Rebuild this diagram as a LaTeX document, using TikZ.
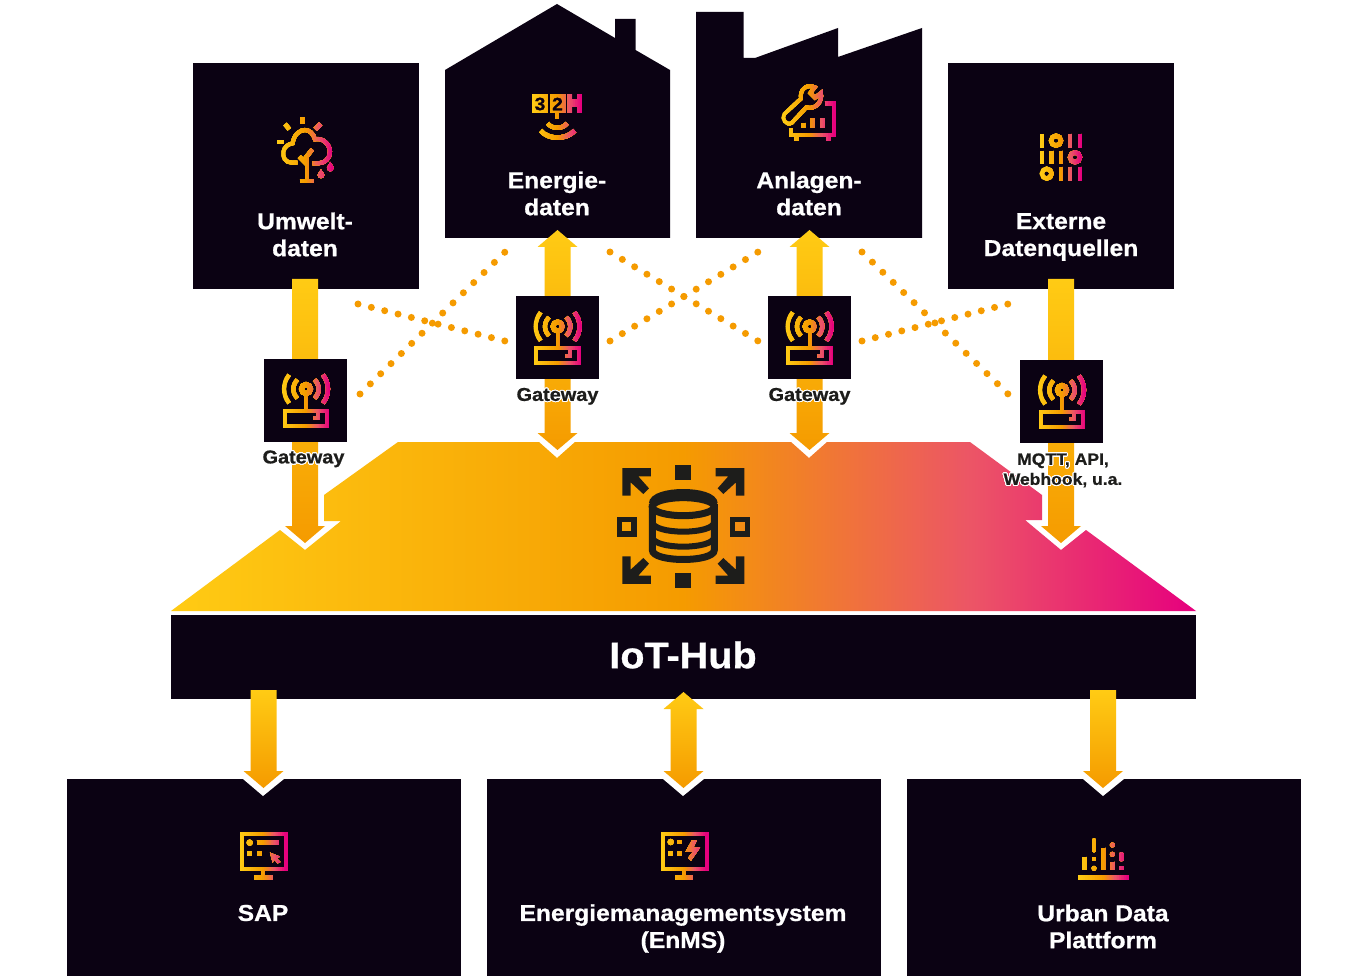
\documentclass[tikz,border=0pt]{standalone}
\usepackage{fontspec}
\usepackage{contour}
\usetikzlibrary{positioning,calc}
\setmainfont{Liberation Sans}[BoldFeatures={FakeStretch=1.07,FakeBold=0.8}]
\contourlength{1pt}
\contournumber{24}

\definecolor{boxdark}{HTML}{0B0213}
\definecolor{icondark}{HTML}{1D1D1B}
\definecolor{brandyellow}{HTML}{FFCB14}
\definecolor{brandorange}{HTML}{F59B00}
\definecolor{brandcoral}{HTML}{EC5566}
\definecolor{brandpink}{HTML}{E6007E}

\pgfdeclarehorizontalshading{brandgrad}{100bp}{
  color(0bp)=(brandyellow); color(25bp)=(brandyellow); color(50bp)=(brandorange);
  color(64bp)=(brandcoral); color(75bp)=(brandpink); color(100bp)=(brandpink)}

% Block arrows: tail, tip
\newcommand{\arrowdown}[2]{
  \shade[arrowgrad] let \p1=(#1), \p2=(#2) in
    (\x1-13pt,\y1) -- (\x1+13pt,\y1) -- (\x1+13pt,\y2+17pt) -- (\x1+20pt,\y2+17pt)
    -- (\x2,\y2) -- (\x1-20pt,\y2+17pt) -- (\x1-13pt,\y2+17pt) -- cycle;
}
\newcommand{\arrowboth}[2]{
  \shade[arrowgrad] let \p1=(#1), \p2=(#2) in
    (\x1,\y1) -- (\x1+20pt,\y1-17pt) -- (\x1+13pt,\y1-17pt) -- (\x1+13pt,\y2+17pt) -- (\x1+20pt,\y2+17pt)
    -- (\x2,\y2) -- (\x1-20pt,\y2+17pt) -- (\x1-13pt,\y2+17pt) -- (\x1-13pt,\y1-17pt) -- (\x1-20pt,\y1-17pt) -- cycle;
}

% Gradient icon: drawing, shift x, y, then its x from, x to
\newcommand{\gradicon}[5]{
  \begin{scope}[shift={(#2,#3)}, x=.3333pt, y=-.3333pt]
    \foreach \slice in {0,...,20}{
      \ifnum\slice<11 \colorlet{iconcol}{brandorange!\the\numexpr\slice*10\relax!brandyellow}
      \else\ifnum\slice<16 \colorlet{iconcol}{brandcoral!\the\numexpr(\slice-10)*20\relax!brandorange}
      \else \colorlet{iconcol}{brandpink!\the\numexpr(\slice-15)*20\relax!brandcoral}\fi\fi
      \pgfmathsetmacro{\xcut}{\slice==0 ? #4-30 : #4+(#5-#4)*\slice/21}
      \begin{scope}[color=iconcol]
        \clip (\xcut,-1000) rectangle (#5+30,2000);
        #1
      \end{scope}
    }
  \end{scope}
}

% Icons
\newcommand{\drawGateway}{
  \draw[line width=4.8pt] (168,117) circle (4.6pt);
  \draw[line width=4pt] (168,138) -- (168,178);
  \draw[line width=4pt] (104,182) rectangle (232,228);
  \draw[line width=4pt] (204,180) -- (204,205) -- (190,205);
  \draw[line width=4.2pt] (168,117) ++(133:38) arc[start angle=133, end angle=227, radius=38];
  \draw[line width=4.2pt] (168,117) ++(140:66) arc[start angle=140, end angle=220, radius=66];
  \draw[line width=4.2pt] (168,117) ++(47:38) arc[start angle=47, end angle=-47, radius=38];
  \draw[line width=4.2pt] (168,117) ++(40:66) arc[start angle=40, end angle=-40, radius=66];
}
\newcommand{\drawTree}{
  \draw[line width=4pt] (322,308) -- (305,308) .. controls (285,308) and (277,290) .. (280,275)
    .. controls (283,260) and (295,252) .. (308,250) .. controls (312,222) and (330,210) .. (345,210)
    .. controls (358,210) and (370,220) .. (375,238) .. controls (400,232) and (420,255) .. (420,275)
    .. controls (420,295) and (405,310) .. (385,310) -- (368,310);
  \draw[line width=4.2pt] (350,365) -- (350,295);
  \draw[line width=4.2pt] (328,290) -- (350,312);
  \draw[line width=4.2pt] (367,268) -- (345,296);
  \draw[line width=4.2pt] (330,362) -- (372,362);
  \draw[line width=5pt] (339,172) -- (339,192);
  \draw[line width=4.5pt] (285,192) -- (298,208);
  \draw[line width=4.5pt] (392,192) -- (376,208);
  \draw[line width=4.5pt] (262,246) -- (282,246);
  \fill (393,328) .. controls (398,338) and (403,340) .. (403,345) .. controls (403,358) and (383,358) .. (383,345) .. controls (383,340) and (388,338) .. (393,328);
  \fill (421,306) .. controls (426,316) and (431,318) .. (431,323) .. controls (431,338) and (411,338) .. (411,323) .. controls (411,318) and (416,316) .. (421,306);
}
\newcommand{\drawMeter}{
  \fill (277,282) rectangle (323,340);
  \fill (330,282) rectangle (377,340);
  \fill (382,282) rectangle (427,340);
  \fill[boxdark] (397,282) rectangle (412,298);
  \fill[boxdark] (397,322) rectangle (412,340);
  \draw[line width=4.2pt] (352,340) -- (352,358);
  \draw[line width=4.2pt] (323,370) .. controls (335,388) and (369,388) .. (381,370);
  \draw[line width=4.6pt] (302,392) .. controls (325,420) and (379,420) .. (404,392);
}
\newcommand{\drawWrench}{
  \draw[line width=3.8pt] (374,262) .. controls (352,250) and (328,268) .. (333,296) -- (283,342)
    .. controls (272,356) and (290,380) .. (306,368) -- (349,322) .. controls (374,330) and (398,308) .. (393,279)
    -- (375,293) -- (361,279) -- cycle;
  \draw[line width=4.8pt] (405,311) -- (432,311) -- (432,405) -- (303,405) -- (303,383);
  \draw[line width=5pt] (320,405) -- (320,424);
  \draw[line width=5pt] (415,405) -- (415,424);
  \draw[line width=4.8pt] (341,369) -- (341,383);
  \draw[line width=4.8pt] (368,355) -- (368,383);
  \draw[line width=4.8pt] (397,355) -- (397,383);
}
\newcommand{\drawBinary}{
  \foreach \xbar/\ybar in {276/102, 360/102, 390/102, 276/152, 305/152, 333/152, 333/201, 360/201, 390/201}
    \draw[line width=4.8pt] (\xbar,\ybar) -- ++(0,41);
  \foreach \xring/\yring in {318/122, 375/172, 290/221}
    \draw[line width=4.4pt] (\xring,\yring) circle (4.9pt);
}
\newcommand{\drawSap}{
  \draw[line width=3.8pt] (65,463) rectangle (197,568);
  \draw[line width=4.2pt] (130,568) -- (130,592);
  \draw[line width=5pt] (103,592) -- (158,592);
  \fill (89,488) circle (3.2pt);
  \draw[line width=4.6pt] (110,488) -- (178,488);
  \fill (81,513) rectangle (96,527);
  \fill (110,513) rectangle (125,527);
  \fill (150,518) -- (180,530) -- (170,535) -- (181,546) -- (173,550) -- (163,539) -- (158,548) -- cycle;
}
\newcommand{\drawEms}{
  \draw[line width=3.8pt] (68,463) rectangle (200,568);
  \draw[line width=4.2pt] (132,568) -- (132,592);
  \draw[line width=5pt] (105,592) -- (160,592);
  \fill (92,486) circle (3.2pt);
  \fill (112,479) rectangle (127,493);
  \fill (84,513) rectangle (99,527);
  \fill (112,513) rectangle (127,527);
  \fill (155,482) -- (170,482) -- (160,503) -- (180,503) -- (153,542) -- (144,534) -- (158,516) -- (136,516) -- cycle;
}
\newcommand{\drawChart}{
  \draw[line width=4.8pt] (54,172) -- (206,172);
  \draw[line width=4.8pt] (74,110) -- (74,150);
  \draw[line width=4.8pt, line cap=round] (102,62) -- (102,90);
  \fill (95,110) rectangle (109,124);
  \fill (102,145) circle (2.5pt);
  \draw[line width=4.8pt] (130,83) -- (130,150);
  \fill (157,75) circle (2.5pt);
  \fill (157,103) circle (2.5pt);
  \draw[line width=4.8pt] (157,125) -- (157,150);
  \draw[line width=4.8pt, line cap=round] (184,104) -- (184,117);
  \fill (177,138) rectangle (191,150);
}

\begin{document}
\begin{tikzpicture}[
    x=1pt, y=-1pt,
    darkbox/.style={rectangle, fill=boxdark, inner sep=0pt},
    darkshape/.style={fill=boxdark},
    boxlabel/.style={text=white, align=center, inner sep=0pt, font=\bfseries\fontsize{23}{27}\selectfont},
    gwlabel/.style={text=icondark, align=center, inner sep=0pt, font=\bfseries\fontsize{18.6}{20}\selectfont},
    digit/.style={text=boxdark, inner sep=0pt, font=\bfseries\fontsize{18}{18}\selectfont},
    arrowgrad/.style={top color=brandyellow, bottom color=brandorange},
    dotline/.style={draw=brandorange, line width=7pt, line cap=round, dash pattern=on 0pt off #1}
]
\useasboundingbox (0,0) rectangle (1366,976);
\fill[white] (0,0) rectangle (1366,976);

% Sources
\node[darkbox, minimum width=226pt, minimum height=226pt] (umwelt) at (305.5,176) {};
\path[darkshape] (445,70) -- (557,4) -- (615,38) -- (615,19) -- (635.5,19) -- (635.5,50) -- (670,70) -- (670,238) -- (445,238) -- cycle;
\path[darkshape] (696,12) -- (743.5,12) -- (743.5,58) -- (755,58) -- (838,28) -- (838,57) -- (922,28) -- (922,238) -- (696,238) -- cycle;
\node[darkbox, minimum width=226pt, minimum height=226pt] (extern) at (1061,176) {};

\node[boxlabel] (umwelt-text) at (305,234.5) {Umwelt-\\daten};
\node[boxlabel] (energie) at (557,193.5) {Energie-\\daten};
\node[boxlabel] (anlagen) at (809,193.5) {Anlagen-\\daten};
\node[boxlabel] (extern-text) at (1061,237) {Externe\\Datenquellen};

\gradicon{\drawTree}{190}{60}{262}{432}
\gradicon{\drawMeter}{440}{0}{277}{427}
\node[digit] (digit-three) at (540,104) {3};
\node[digit] (digit-two) at (557.5,104) {2};
\gradicon{\drawWrench}{690}{0}{277}{437}
\gradicon{\drawBinary}{950}{100}{270}{397}

% Hub
\shade[shading=brandgrad] (171,611) -- (280,530) -- (305,550) -- (341,521) -- (324,521) -- (324,495) -- (398,442)
  -- (539,442) -- (557,458) -- (575,442) -- (791,442) -- (809,458) -- (827,442) -- (970,442)
  -- (1042,495) -- (1042,520) -- (1025,520) -- (1061,550) -- (1086,530) -- (1196,611) -- cycle;
\node[darkbox, minimum width=1025pt, minimum height=84pt] (hub) at (683.5,657) {};
\node[text=white, inner sep=0pt, font=\bfseries\fontsize{37}{37}\selectfont] (hub-text) at (683,655) {IoT-Hub};

% Hub icon
\begin{scope}[shift={(683.3,526)}, x=.3333pt, y=-.3333pt, icondark]
  \foreach \sx/\sy in {1/1, -1/1, 1/-1, -1/-1}
    \fill[xscale=\sx, yscale=\sy] (-183,-174) -- (-97,-174) -- (-97,-149) -- (-135,-149) -- (-103,-113) -- (-120,-96)
      -- (-158,-131) -- (-158,-91) -- (-183,-91) -- cycle;
  \fill (-24,-184) rectangle (24,-138);
  \fill (-24,142) rectangle (24,187);
  \draw[line width=5.4pt] (-192,-20) rectangle (-148,24);
  \draw[line width=5.4pt] (148,-20) rectangle (192,24);
  \draw[line width=7pt] (0,-58) ellipse (31pt and 9pt);
  \draw[line width=7pt] (-93,-66) .. controls (-93,-112) and (93,-112) .. (93,-66);
  \draw[line width=7pt] (-93,-66) -- (-93,72) .. controls (-93,110) and (93,110) .. (93,72) -- (93,-66);
  \draw[line width=6pt] (-93,-13) .. controls (-93,27) and (93,27) .. (93,-13);
  \draw[line width=6pt] (-93,32) .. controls (-93,72) and (93,72) .. (93,32);
\end{scope}

% Targets
\node[darkbox, minimum width=394pt, minimum height=197pt] (sap) at (264,877.5) {};
\node[darkbox, minimum width=394pt, minimum height=197pt] (enms) at (684,877.5) {};
\node[darkbox, minimum width=394pt, minimum height=197pt] (urban) at (1103.5,877.5) {};
\fill[white] (243,779) -- (263,796) -- (284,779) -- cycle;
\fill[white] (663,779) -- (683,796) -- (704,779) -- cycle;
\fill[white] (1083,779) -- (1103,796) -- (1124,779) -- cycle;

\node[boxlabel] (sap-text) at (263,913) {SAP};
\node[boxlabel] (enms-text) at (683,928.5) {Energiemanagementsystem\\(EnMS)};
\node[boxlabel] (urban-text) at (1103,926.5) {Urban Data\\Plattform};

\gradicon{\drawSap}{220}{680}{60}{200}
\gradicon{\drawEms}{640}{680}{63}{202}
\gradicon{\drawChart}{1060}{820}{54}{206}

% Arrow ends
\coordinate (umwelt-out) at (305,279);
\coordinate (hub-in-a) at (305,543);
\coordinate (energie-out) at (557.5,230);
\coordinate (hub-in-b) at (557.5,450);
\coordinate (anlagen-out) at (809.5,230);
\coordinate (hub-in-c) at (809.5,450);
\coordinate (extern-out) at (1061,279);
\coordinate (hub-in-d) at (1061,543);
\coordinate (hub-out-a) at (263.5,690);
\coordinate (sap-in) at (263.5,788);
\coordinate (hub-out-b) at (683.5,692);
\coordinate (enms-in) at (683.5,788);
\coordinate (hub-out-c) at (1103,690);
\coordinate (urban-in) at (1103,788);

% Arrows to and from hub
\arrowdown{umwelt-out}{hub-in-a}
\arrowboth{energie-out}{hub-in-b}
\arrowboth{anlagen-out}{hub-in-c}
\arrowdown{extern-out}{hub-in-d}
\arrowdown{hub-out-a}{sap-in}
\arrowboth{hub-out-b}{enms-in}
\arrowdown{hub-out-c}{urban-in}

% Gateways
\node[darkbox, minimum size=83pt] (gw-a) at (305.5,400.5) {};
\node[darkbox, minimum size=83pt] (gw-b) at (557.5,338) {};
\node[darkbox, minimum size=83pt] (gw-c) at (809.5,338) {};
\node[darkbox, minimum size=83pt] (gw-d) at (1061.5,401.5) {};

\gradicon{\drawGateway}{250}{350}{94}{242}
\gradicon{\drawGateway}{501.6}{287.5}{94}{242}
\gradicon{\drawGateway}{753.6}{287.5}{94}{242}
\gradicon{\drawGateway}{1006}{351}{94}{242}

\node[gwlabel, below=8pt of gw-a, xshift=-2pt] (gw-a-text) {\contour{white}{Gateway}};
\node[gwlabel, below=8pt of gw-b] (gw-b-text) {\contour{white}{Gateway}};
\node[gwlabel, below=8pt of gw-c] (gw-c-text) {\contour{white}{Gateway}};
\node[gwlabel, below=10pt of gw-d, xshift=1.5pt, font=\bfseries\fontsize{16.4}{20}\selectfont] (gw-d-text) {\contour{white}{MQTT, API,}\\\contour{white}{Webhook, u.a.}};

% Dotted links
\coordinate (umwelt-dot) at (358,304);
\coordinate (gw-a-dot) at (360,394);
\coordinate (energie-dot-l) at (505,252);
\coordinate (gw-b-dot-l) at (505,341);
\coordinate (energie-dot-r) at (610,252);
\coordinate (gw-b-dot-r) at (610,341);
\coordinate (anlagen-dot-l) at (758,252);
\coordinate (gw-c-dot-l) at (758,341);
\coordinate (anlagen-dot-r) at (862,252);
\coordinate (gw-c-dot-r) at (862,341);
\coordinate (extern-dot) at (1008,304);
\coordinate (gw-d-dot) at (1008,394);

\draw[dotline=13.76pt] (umwelt-dot) -- (gw-b-dot-l);
\draw[dotline=14.47pt] (gw-a-dot) -- (energie-dot-l);
\draw[dotline=14.37pt] (energie-dot-r) -- (gw-c-dot-l);
\draw[dotline=14.37pt] (gw-b-dot-r) -- (anlagen-dot-l);
\draw[dotline=14.53pt] (anlagen-dot-r) -- (gw-d-dot);
\draw[dotline=13.67pt] (gw-c-dot-r) -- (extern-dot);

\end{tikzpicture}
\end{document}
